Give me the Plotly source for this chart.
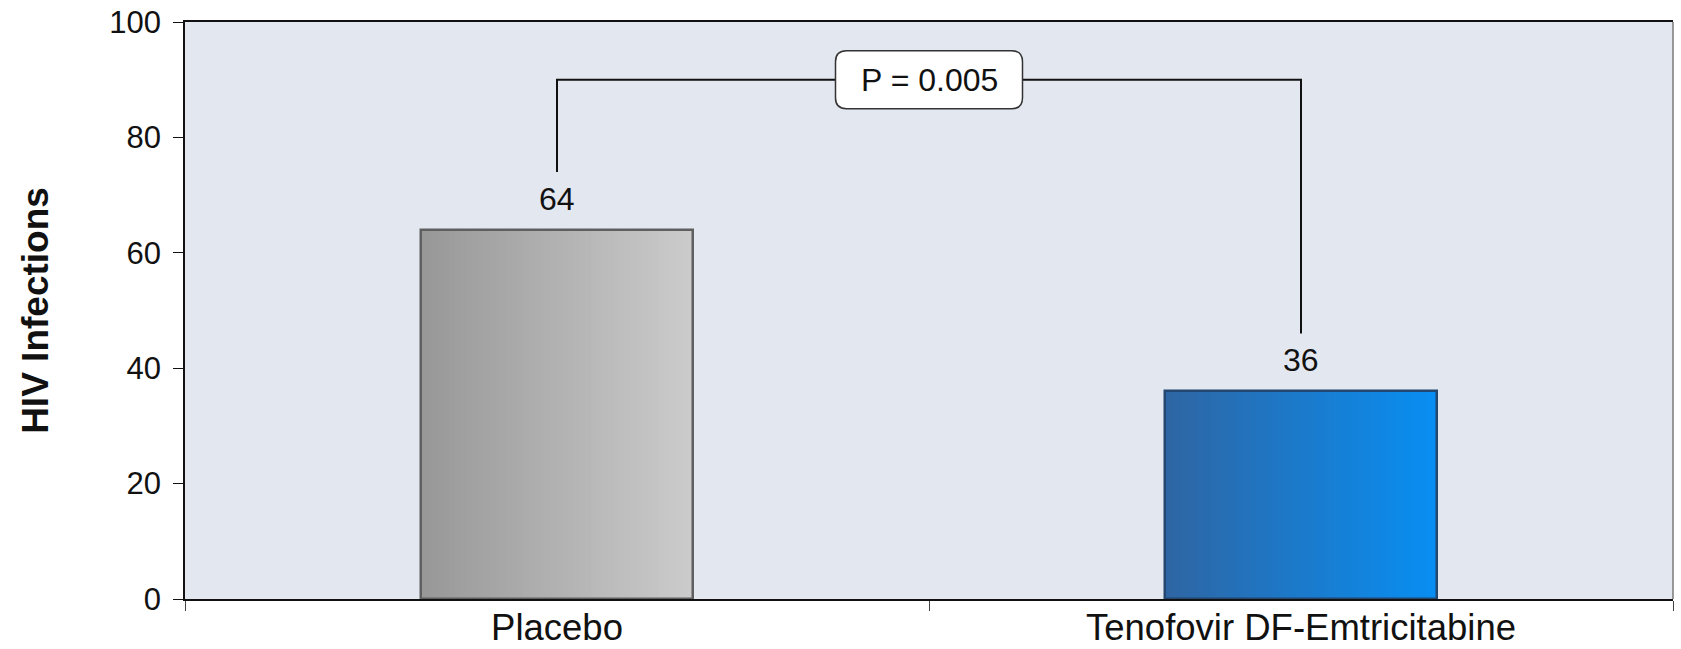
import plotly.graph_objects as go

# ---- data ----
categories = ["Placebo", "Tenofovir DF-Emtricitabine"]
infections = [64, 36]
p_value_label = "P = 0.005"
y_ticks = [0, 20, 40, 60, 80, 100]

# ---- style ----
FONT = "Arial, Liberation Sans, sans-serif"
grad_left = [(0x98, 0x98, 0x98), (0x2E, 0x66, 0xA4)]
grad_right = [(0xCB, 0xCB, 0xCB), (0x08, 0x8E, 0xF2)]
edge_colors = ["#5f5f5f", "#23476f"]
BAR_W = 0.366
N_STRIPS = 48

fig = go.Figure()

def mix(c1, c2, t):
    return "rgb(%d,%d,%d)" % tuple(round(a + (b - a) * t) for a, b in zip(c1, c2))

# gradient-filled bars built from overlapping strips of each bar
for i, (cat, val) in enumerate(zip(categories, infections)):
    dw = BAR_W / N_STRIPS
    for k in range(N_STRIPS):
        t = k / (N_STRIPS - 1)
        fig.add_trace(go.Bar(
            x=[cat], y=[val],
            width=[BAR_W - k * dw], offset=[-BAR_W / 2 + k * dw],
            marker=dict(color=mix(grad_left[i], grad_right[i], t), line=dict(width=0)),
            showlegend=False, hoverinfo="skip",
        ))
    # outline
    fig.add_trace(go.Bar(
        x=[cat], y=[val], width=[BAR_W], offset=[-BAR_W / 2],
        marker=dict(color="rgba(0,0,0,0)", line=dict(color=edge_colors[i], width=2.5)),
        showlegend=False, hovertemplate="%{x}: %{y}<extra></extra>",
    ))
    # value label
    fig.add_annotation(x=cat, y=val, text=str(val), showarrow=False,
                       yanchor="bottom", yshift=11,
                       font=dict(family=FONT, size=32, color="#111"))

# significance bracket
bracket_top = 90
gap = 10
fig.add_trace(go.Scatter(
    x=[categories[0], categories[0], categories[1], categories[1]],
    y=[infections[0] + gap, bracket_top, bracket_top, infections[1] + gap],
    mode="lines", line=dict(color="#111", width=2),
    showlegend=False, hoverinfo="skip",
))

hw, hh, r = 93.5, 29, 11
box_path = (f"M {-hw + r},{-hh} L {hw - r},{-hh} Q {hw},{-hh} {hw},{-hh + r} "
            f"L {hw},{hh - r} Q {hw},{hh} {hw - r},{hh} L {-hw + r},{hh} "
            f"Q {-hw},{hh} {-hw},{hh - r} L {-hw},{-hh + r} Q {-hw},{-hh} {-hw + r},{-hh} Z")
fig.add_shape(type="path", path=box_path, xref="x", yref="y",
              xsizemode="pixel", ysizemode="pixel", xanchor=0.5, yanchor=bracket_top,
              fillcolor="white", line=dict(color="#333", width=1.5), layer="above")
fig.add_annotation(x=0.5, y=bracket_top, text=p_value_label, showarrow=False,
                   font=dict(family=FONT, size=32, color="#111"))

# right border of plot area (gray)
fig.add_shape(type="line", xref="paper", yref="paper", x0=1, x1=1, y0=0, y1=1,
              line=dict(color="#7a7a7a", width=1.5), layer="above")

fig.update_layout(
    width=1681, height=649,
    margin=dict(l=185, r=8, t=22, b=50),
    paper_bgcolor="white", plot_bgcolor="#E3E8F0",
    barmode="overlay", bargap=0,
    font=dict(family=FONT, color="#111"),
    showlegend=False,
)
fig.update_xaxes(
    categoryorder="array", categoryarray=categories,
    showline=True, linecolor="#111", linewidth=1.5, mirror=True,
    ticks="outside", tickson="boundaries", ticklen=10, tickcolor="#444",
    tickfont=dict(family=FONT, size=36.5, color="#111"),
    ticklabelstandoff=-5,
    showgrid=False, zeroline=False, automargin=False,
)
fig.update_yaxes(
    range=[0, 100], tickvals=y_ticks,
    showline=True, linecolor="#111", linewidth=1.5,
    ticks="outside", ticklen=10, tickcolor="#111",
    tickfont=dict(family=FONT, size=31, color="#111"),
    ticklabelstandoff=6,
    showgrid=False, zeroline=False, automargin=False,
    title=dict(text="<b>HIV Infections</b>", font=dict(family=FONT, size=37, color="#111"),
               standoff=49),
)

fig.write_html("out.html", config={"displayModeBar": False},
               post_script="document.body.style.margin='0';document.body.style.overflow='hidden';")
